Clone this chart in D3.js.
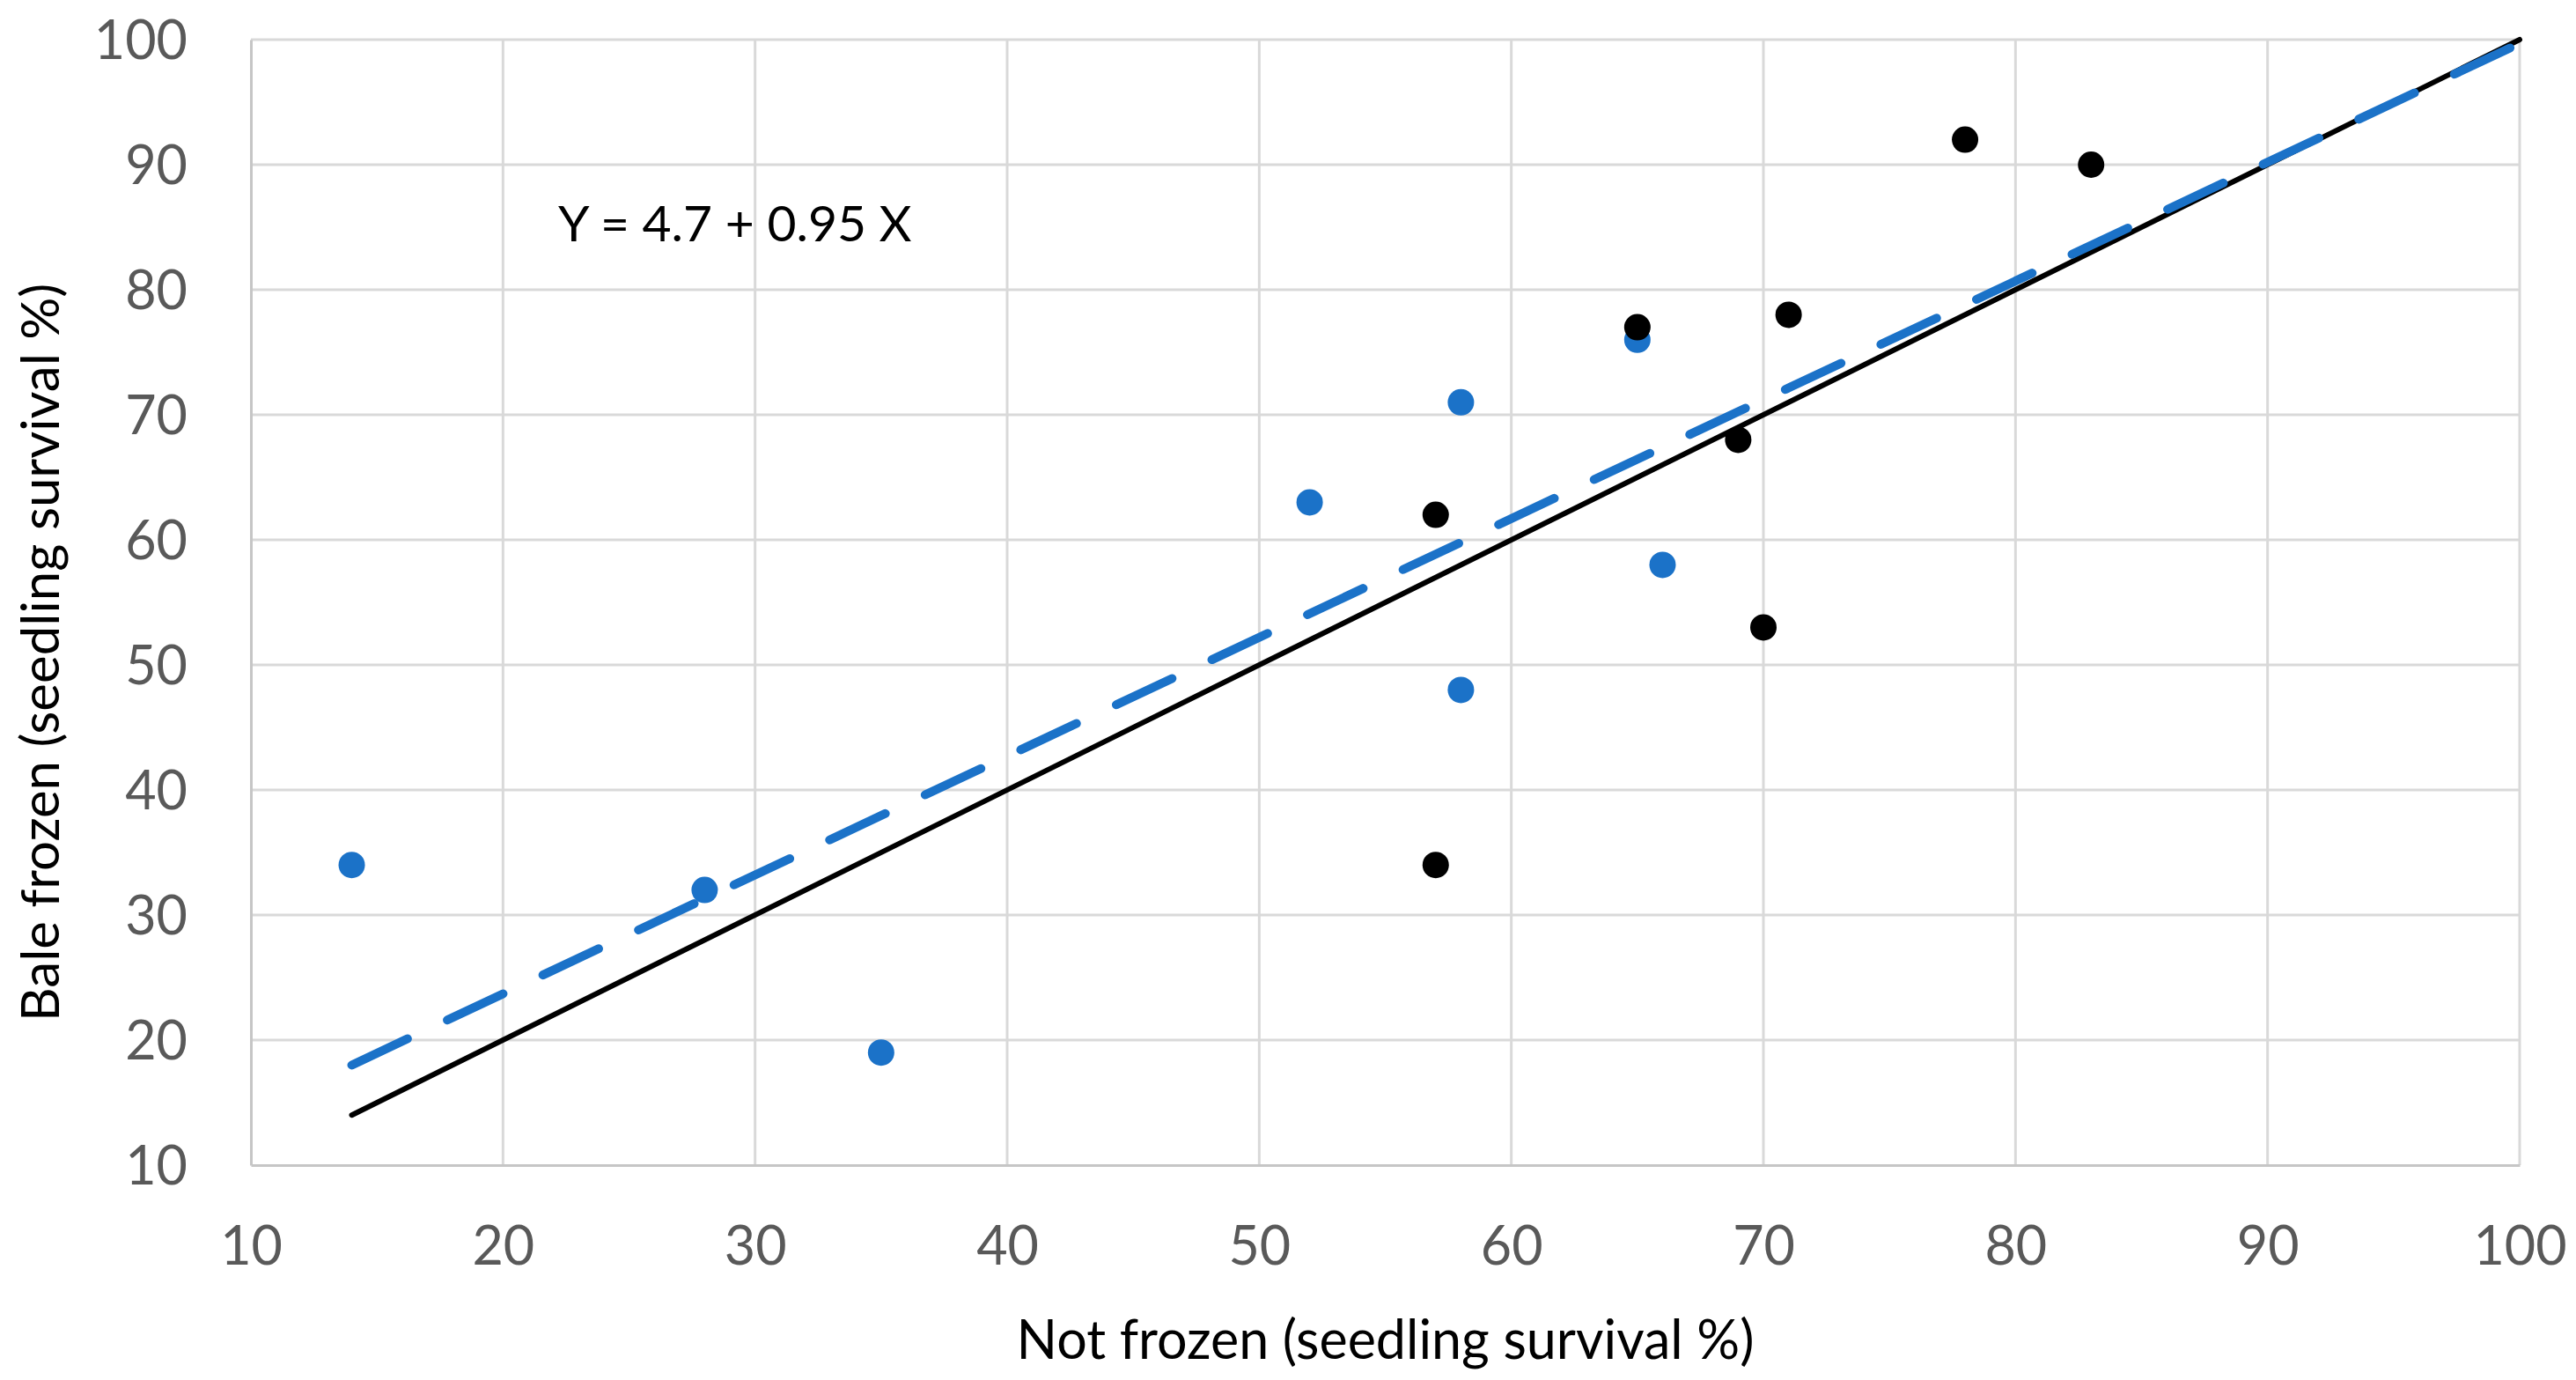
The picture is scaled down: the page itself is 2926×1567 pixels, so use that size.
<!DOCTYPE html>
<html lang="en">
<head>
    <meta charset="UTF-8">
    <title>Bale frozen vs not frozen</title>
    <script src="https://cdnjs.cloudflare.com/ajax/libs/d3/7.8.5/d3.min.js"></script>
    <style>
        body { margin: 0; background: #fff; }
        svg { display: block; }
        text { font-family: Lato, "Open Sans", "Liberation Sans", sans-serif; }
    </style>
</head>
<body>
<svg id="chart" width="2926" height="1567"></svg>

<script>
    // black series (x = not frozen, y = bale frozen)
    const blackX = [57, 57, 65, 69, 70, 71, 78, 83];
    const blackY = [62, 34, 77, 68, 53, 78, 92, 90];

    // blue series
    const blueX = [14, 28, 35, 52, 58, 58, 65, 66];
    const blueY = [34, 32, 19, 63, 71, 48, 76, 58];

    // line ends: 1:1 line and fitted line
    const oneToOneLine = [[14, 14], [100, 100]];
    const fittedLine = [[14, 18], [100, 99.7]];

    const xTicks = [10, 20, 30, 40, 50, 60, 70, 80, 90, 100];
    const yTicks = [10, 20, 30, 40, 50, 60, 70, 80, 90, 100];

    const xTitle = "Not frozen (seedling survival %)";
    const yTitle = "Bale frozen (seedling survival %)";
    const equation = "Y = 4.7 + 0.95 X";

    const svg = d3.select("#chart");
    const plot = { left: 285, right: 2862, top: 45, bottom: 1323 };

    const x = d3.scaleLinear().domain([10, 100]).range([plot.left, plot.right]);
    const y = d3.scaleLinear().domain([10, 100]).range([plot.bottom, plot.top]);

    // grid
    const grid = svg.append("g").attr("stroke", "#d9d9d9").attr("stroke-width", 3);
    grid.selectAll("line.v")
        .data(xTicks.slice(1))
        .enter().append("line")
        .attr("x1", d => x(d)).attr("x2", d => x(d))
        .attr("y1", plot.top).attr("y2", plot.bottom);
    grid.selectAll("line.h")
        .data(yTicks.slice(1))
        .enter().append("line")
        .attr("x1", plot.left).attr("x2", plot.right)
        .attr("y1", d => y(d)).attr("y2", d => y(d));

    // axes (only lines + labels, no tick marks)
    const xAxis = svg.append("g")
        .attr("transform", `translate(0,${plot.bottom})`)
        .call(d3.axisBottom(x).tickValues(xTicks).tickSize(0).tickPadding(70));
    const yAxis = svg.append("g")
        .attr("transform", `translate(${plot.left},0)`)
        .call(d3.axisLeft(y).tickValues(yTicks).tickSize(0).tickPadding(72));

    [xAxis, yAxis].forEach(a => {
        a.select(".domain").attr("stroke", "#c6c6c6").attr("stroke-width", 3);
        a.selectAll("text")
            .attr("fill", "#595959")
            .attr("font-size", 61)
            .attr("font-family", "Lato, 'Open Sans', sans-serif");
    });
    xAxis.selectAll("text").attr("dy", "0.71em");
    yAxis.selectAll("text").attr("dy", "0.36em");

    // lines
    svg.append("line")
        .attr("x1", x(oneToOneLine[0][0])).attr("y1", y(oneToOneLine[0][1]))
        .attr("x2", x(oneToOneLine[1][0])).attr("y2", y(oneToOneLine[1][1]))
        .attr("stroke", "#000")
        .attr("stroke-width", 6)
        .attr("stroke-linecap", "round");

    svg.append("line")
        .attr("x1", x(fittedLine[0][0])).attr("y1", y(fittedLine[0][1]))
        .attr("x2", x(fittedLine[1][0])).attr("y2", y(fittedLine[1][1]))
        .attr("stroke", "#1b72c8")
        .attr("stroke-width", 10)
        .attr("stroke-linecap", "round")
        .attr("stroke-dasharray", "70,50");

    // points
    svg.append("g").selectAll("circle")
        .data(d3.zip(blueX, blueY))
        .enter().append("circle")
        .attr("cx", d => x(d[0])).attr("cy", d => y(d[1]))
        .attr("r", 15)
        .attr("fill", "#1b72c8");

    svg.append("g").selectAll("circle")
        .data(d3.zip(blackX, blackY))
        .enter().append("circle")
        .attr("cx", d => x(d[0])).attr("cy", d => y(d[1]))
        .attr("r", 15)
        .attr("fill", "#000");

    // equation
    svg.append("text")
        .attr("x", 634).attr("y", 274)
        .attr("font-size", 57)
        .attr("fill", "#000")
        .text(equation);

    // axis titles
    svg.append("text")
        .attr("x", (plot.left + plot.right) / 2).attr("y", 1543)
        .attr("text-anchor", "middle")
        .attr("font-size", 61)
        .attr("fill", "#000")
        .text(xTitle);

    // y title sits a little below the plot centre in the original
    svg.append("text")
        .attr("transform", "translate(67,1160) rotate(-90)")
        .attr("text-anchor", "start")
        .attr("font-size", 60)
        .attr("fill", "#000")
        .text(yTitle);
</script>
</body>
</html>
